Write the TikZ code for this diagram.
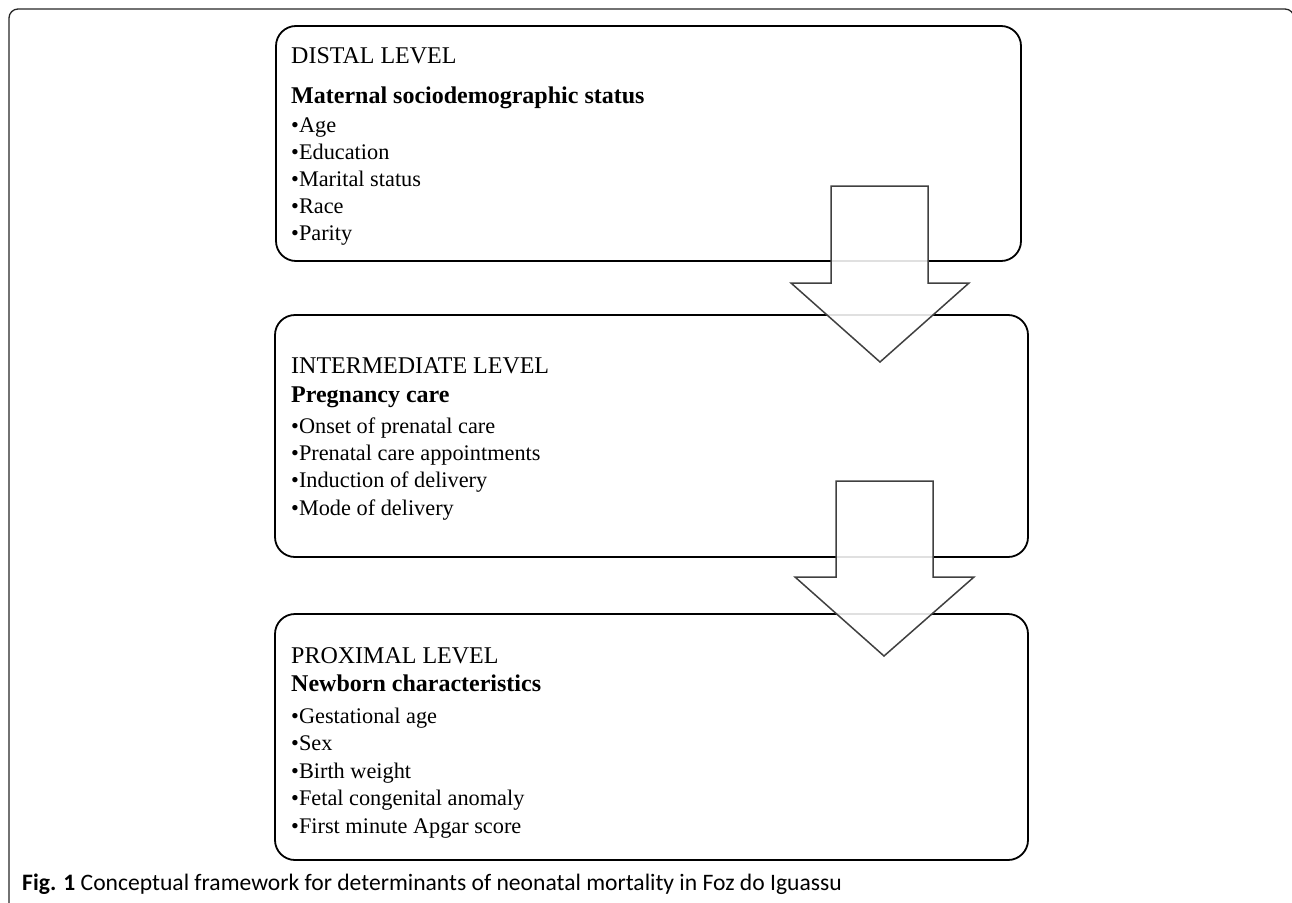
\documentclass[tikz,border=0pt]{standalone}
\usepackage{fontspec}
\setmainfont{Liberation Serif}
\newfontfamily\capfont{Carlito}
\usetikzlibrary{positioning}
\tikzset{levelbox/.style={draw=black,line width=1.8pt,rounded corners=20pt}}
\tikzset{downarrow/.style={draw=black!75,line width=1.5pt,fill=white,fill opacity=0.88,miter limit=20}}
\tikzset{levelhead/.style={anchor=base west,inner sep=0pt,font=\fontsize{24}{28}\selectfont}}
\tikzset{levelitem/.style={anchor=base west,inner sep=0pt,font=\fontsize{22.3}{26}\selectfont}}

\begin{document}
\begin{tikzpicture}[x=1pt,y=-1pt]
                \useasboundingbox (0,0) rectangle (1292,902);
                
                % Frame
                \draw[line width=1.3pt,black!85,rounded corners=9pt] (9,903) -- (9,9) -- (1294,9) -- (1294,903);
                
                % Boxes
                \draw[levelbox] (276,26) rectangle (1021,261);
                \draw[levelbox] (275,315) rectangle (1028,557);
                \draw[levelbox] (275,614) rectangle (1028,860);
                
                % Distal
                \node[levelhead] (distal) at (291,63) {DISTAL LEVEL};
                \node[levelhead] (maternal) at (291,103) {\bfseries Maternal sociodemographic status};
                \foreach \t [count=\i] in {Age,Education,Marital status,Race,Parity}
                    \node[levelitem] (d\i) at (291,105+27*\i) {•\t};
                
                % Intermediate
                \node[levelhead] (intermediate) at (291,373) {INTERMEDIATE LEVEL};
                \node[levelhead] (pregnancy) at (291,402) {\bfseries Pregnancy care};
                \foreach \t [count=\i] in {Onset of prenatal care,Prenatal care appointments,Induction of delivery,Mode of delivery}
                    \node[levelitem] (m\i) at (291,406+27.3*\i) {•\t};
                
                % Proximal
                \node[levelhead] (proximal) at (291,663) {PROXIMAL LEVEL};
                \node[levelhead] (newborn) at (291,691) {\bfseries Newborn characteristics};
                \foreach \t [count=\i] in {Gestational age,Sex,Birth weight,Fetal congenital anomaly,First minute Apgar score}
                    \node[levelitem] (p\i) at (291,695.5+27.5*\i) {•\t};
                
                % Arrows
                \draw[downarrow] (831,186) -- (928,186) -- (928,283) -- (969,283) -- (880,362) -- (791,283) -- (831,283) -- cycle;
                \draw[downarrow] (836,481) -- (933,481) -- (933,577) -- (974,577) -- (884,656) -- (795,577) -- (836,577) -- cycle;
                
                % Caption
                \node[anchor=base west,inner sep=0pt,font=\capfont\fontsize{23.6}{27}\selectfont] (caption) at (22,890) {\textbf{Fig. 1} Conceptual framework for determinants of neonatal mortality in Foz do Iguassu};
\end{tikzpicture}
\end{document}
